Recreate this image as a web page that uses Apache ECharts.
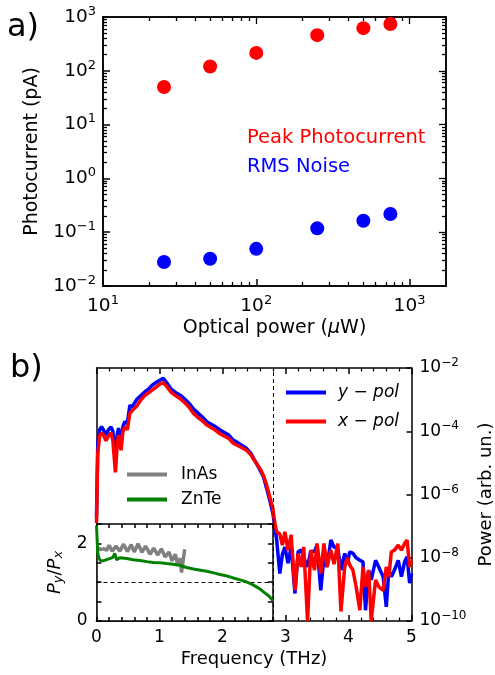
<!DOCTYPE html>
<html style="height: 100%">
<head>
<meta charset="UTF-8">
<title>Photocurrent and THz spectra</title>
<script src="https://cdn.jsdelivr.net/npm/echarts@6.0.0/dist/echarts.min.js"></script>
</head>
<body style="height: 100%; margin: 0; background: #fff">
<div id="container" style="width: 495px; height: 675px"></div>
<script type="text/javascript">
// panel a) photocurrent vs optical power
var powerUW = [25, 50, 100, 250, 500, 750];
var peakPhotocurrent = [50, 120, 215, 460, 620, 740];
var rmsNoise = [0.028, 0.032, 0.049, 0.118, 0.163, 0.218];

// panel b) power spectra, values are log10 of power (arb. un.)
var freqTHz = [0.00, 0.02, 0.05, 0.08, 0.11, 0.15, 0.19, 0.23, 0.26, 0.30, 0.33, 0.35, 0.39, 0.42, 0.45, 0.49,
  0.53, 0.56, 0.59, 0.64, 0.70, 0.77, 0.83, 0.88, 0.95, 1.01, 1.06, 1.12, 1.19, 1.26, 1.33, 1.40, 1.47,
  1.54, 1.61, 1.68, 1.75, 1.82, 1.89, 1.96, 2.03, 2.10, 2.17, 2.24, 2.31, 2.38, 2.45, 2.50, 2.54, 2.60,
  2.65, 2.70, 2.75, 2.80, 2.83, 2.86, 2.91, 2.95, 2.99, 3.04, 3.09, 3.15, 3.20, 3.25, 3.29, 3.35, 3.40,
  3.46, 3.50, 3.56, 3.61, 3.66, 3.72, 3.77, 3.83, 3.88, 3.94, 3.98, 4.02, 4.07, 4.12, 4.18, 4.23, 4.27,
  4.32, 4.36, 4.43, 4.48, 4.55, 4.60, 4.64, 4.68, 4.73, 4.79, 4.84, 4.89, 4.93, 4.97, 5.00];
var yPolLog = [-6.7, -4.4, -3.95, -3.86, -3.95, -4.12, -3.95, -3.86, -4.0, -4.75, -4.1, -3.9, -4.37, -3.85, -3.7, -3.75,
  -3.17, -3.25, -3.15, -2.99, -2.88, -2.75, -2.66, -2.55, -2.45, -2.38, -2.33, -2.48, -2.68, -2.78, -2.86, -2.98, -3.12,
  -3.3, -3.42, -3.55, -3.7, -3.78, -3.86, -3.96, -4.04, -4.12, -4.28, -4.36, -4.45, -4.54, -4.7, -4.88, -5.02, -5.25,
  -5.44, -5.8, -6.18, -6.6, -7.0, -7.44, -8.5, -7.9, -7.66, -8.17, -7.66, -9.13, -7.81, -7.76, -8.0, -8.29, -7.8,
  -7.8, -7.6, -9.03, -7.97, -8.29, -7.44, -7.66, -7.7, -8.39, -7.86, -8.2, -7.81, -7.86, -8.0, -8.08, -8.13, -9.66,
  -8.39, -8.7, -8.08, -8.29, -8.6, -9.55, -8.4, -8.6, -8.39, -8.08, -8.6, -8.13, -7.97, -8.8, -8.5];
var xPolLog = [-6.9, -4.7, -4.15, -4.05, -4.12, -4.3, -4.15, -4.05, -4.3, -5.3, -4.4, -4.12, -4.6, -4.0, -3.86, -3.95,
  -3.43, -3.4, -3.3, -3.2, -3.02, -2.86, -2.78, -2.7, -2.6, -2.5, -2.46, -2.6, -2.78, -2.88, -2.97, -3.1, -3.24,
  -3.44, -3.56, -3.67, -3.8, -3.88, -3.97, -4.08, -4.16, -4.23, -4.38, -4.45, -4.52, -4.6, -4.74, -4.9, -5.02, -5.2,
  -5.39, -5.7, -6.07, -6.45, -6.9, -7.18, -7.25, -7.6, -7.18, -7.76, -7.28, -9.03, -7.86, -8.29, -7.66, -10.0, -7.76,
  -8.39, -7.55, -8.5, -7.55, -8.29, -7.76, -8.2, -7.55, -9.7, -8.29, -8.0, -8.23, -8.39, -8.9, -9.66, -8.29, -8.92,
  -8.39, -10.0, -8.7, -8.92, -9.03, -8.29, -8.6, -7.81, -7.76, -7.6, -7.76, -7.55, -7.44, -8.29, -8.1];

// inset: ratio P_y / P_x
var znteFreq = [0.00, 0.02, 0.04, 0.06, 0.11, 0.16, 0.21, 0.26, 0.29, 0.32, 0.37, 0.48, 0.58, 0.69, 0.80, 0.90,
  1.01, 1.11, 1.22, 1.33, 1.43, 1.54, 1.65, 1.75, 1.86, 1.96, 2.07, 2.17, 2.28, 2.38, 2.46, 2.54, 2.60, 2.65,
  2.68, 2.70, 2.72, 2.75, 2.78, 2.80];
var znteRatio = [2.46, 1.75, 1.62, 1.56, 1.55, 1.58, 1.61, 1.64, 1.74, 1.58, 1.63, 1.61, 1.58, 1.56, 1.53, 1.51,
  1.50, 1.48, 1.46, 1.43, 1.38, 1.34, 1.31, 1.28, 1.24, 1.20, 1.16, 1.11, 1.06, 1.01, 0.95, 0.88, 0.82, 0.75,
  0.73, 0.69, 0.71, 0.62, 0.56, 0.53];
var inasFreq = [0.02, 0.06, 0.12, 0.16, 0.20, 0.25, 0.31, 0.37, 0.43, 0.49, 0.55, 0.60, 0.66, 0.72, 0.78, 0.85,
  0.91, 0.97, 1.03, 1.09, 1.15, 1.20, 1.25, 1.29, 1.33, 1.35, 1.40];
var inasRatio = [1.89, 1.84, 1.86, 1.82, 1.95, 1.80, 1.93, 1.80, 1.98, 1.79, 1.97, 1.78, 1.99, 1.77, 1.93, 1.72,
  1.88, 1.70, 1.86, 1.65, 1.78, 1.55, 1.72, 1.45, 1.62, 1.25, 1.85];

var font = 'DejaVu Sans';
function zip(xs, ys) {
  var out = [];
  for (var i = 0; i < xs.length; i++) out.push([xs[i], ys[i]]);
  return out;
}
function supNum(e) {
  return e < 0 ? '\u2212' + (-e) : '' + e;
}
function logLabel(v) {
  var l = Math.log10(v), e = Math.round(l);
  if (Math.abs(l - e) > 1e-6) return '';
  return '{b|10}{sup|' + supNum(e) + '}';
}
// minor ticks of a log axis, expressed in decades
function minorDecades(lo, hi) {
  var out = [];
  for (var d = Math.floor(lo); d <= Math.ceil(hi); d++) {
    for (var k = 2; k <= 9; k++) {
      var v = d + Math.log10(k);
      if (v > lo && v < hi) out.push(v);
    }
  }
  return out;
}

var supRich = {
  b: { fontFamily: font, fontSize: 18.5, lineHeight: 24, color: '#000' },
  sup: { fontFamily: font, fontSize: 13, lineHeight: 13, verticalAlign: 'top', color: '#000' }
};
var supRichB = {
  b: { fontFamily: font, fontSize: 17, lineHeight: 22, color: '#000' },
  sup: { fontFamily: font, fontSize: 12, lineHeight: 12, verticalAlign: 'top', color: '#000' }
};
function spine() { return { show: true, onZero: false, lineStyle: { color: '#000', width: 1.5 } }; }

var xMin = 10, xMax = 1730, yMin = 0.01, yMax = 1000;
var xDec = [Math.log10(xMin), Math.log10(xMax)], yDec = [Math.log10(yMin), Math.log10(yMax)];

function majorTick(len) { return { show: true, inside: true, length: len, lineStyle: { color: '#000', width: 1.5 } }; }
function customTick(vals, len) { return { show: true, inside: true, length: len, customValues: vals, lineStyle: { color: '#000', width: 1.3 } }; }
function minorAxis(grid, pos, ext) {
  return {
    gridIndex: grid, type: 'value', position: pos, min: ext[0], max: ext[1],
    axisLine: spine(), axisLabel: { show: false }, splitLine: { show: false },
    axisTick: customTick(minorDecades(ext[0], ext[1]), 4)
  };
}
function minorLin() { return { show: true, splitNumber: 5, length: 3.5, lineStyle: { color: '#000', width: 1.2 } }; }

var dom = document.getElementById('container');
var myChart = echarts.init(dom, null, { renderer: 'canvas' });

var option = {
  animation: false,
  backgroundColor: '#fff',
  textStyle: { fontFamily: font, color: '#000' },
  graphic: [
    { type: 'text', left: 7, top: 12, style: { text: 'a)', font: '32px "DejaVu Sans"', fill: '#000' } },
    { type: 'text', left: 10, top: 353, style: { text: 'b)', font: '32px "DejaVu Sans"', fill: '#000' } }
  ],
  grid: [
    { left: 103, top: 17, width: 343, height: 269, outerBoundsMode: 'none' },
    { left: 96.5, top: 368, width: 315, height: 253, outerBoundsMode: 'none' },
    { left: 96.5, top: 524, width: 176.4, height: 97, show: true, backgroundColor: '#fff', borderWidth: 0, z: 3, outerBoundsMode: 'none' },
    { left: 103, top: 17, width: 343, height: 269, outerBoundsMode: 'none' }
  ],
  legend: [
    {
      orient: 'vertical', left: 237, top: 123, itemWidth: 0, itemHeight: 0, itemGap: 9,
      textStyle: { fontFamily: font, fontSize: 19.5 },
      data: [
        { name: 'Peak Photocurrent', textStyle: { color: '#ff0000' } },
        { name: 'RMS Noise', textStyle: { color: '#0000ff' } }
      ],
      selectedMode: false
    },
    {
      orient: 'vertical', left: 281, top: 379, icon: 'rect', itemWidth: 40, itemHeight: 4, itemGap: 12,
      textStyle: { fontFamily: font, fontSize: 17, fontStyle: 'italic', color: '#000', padding: [0, 0, 0, 7] },
      data: ['y \u2212 pol', 'x \u2212 pol'],
      selectedMode: false
    },
    {
      orient: 'vertical', left: 122, top: 461, icon: 'rect', itemWidth: 40, itemHeight: 4, itemGap: 8,
      textStyle: { fontFamily: font, fontSize: 17, color: '#000', padding: [0, 0, 0, 9] },
      data: ['InAs', 'ZnTe'],
      selectedMode: false
    }
  ],
  xAxis: [
    { // 0: panel a, data axis
      gridIndex: 0, type: 'log', position: 'bottom', min: xMin, max: xMax,
      axisLine: spine(), axisTick: majorTick(7), splitLine: { show: false },
      axisLabel: { formatter: logLabel, rich: supRich, margin: 8, showMaxLabel: false },
      name: 'Optical power ({m|\u03bc}W)', nameLocation: 'middle', nameGap: 33,
      nameTextStyle: { fontFamily: font, fontSize: 19, color: '#000', rich: { m: { fontFamily: font, fontSize: 19, fontStyle: 'italic' } } }
    },
    { // 1: panel a, top spine (decades)
      gridIndex: 0, type: 'value', position: 'top', min: xDec[0], max: xDec[1],
      axisLine: spine(), axisLabel: { show: false }, splitLine: { show: false },
      axisTick: customTick([1, 2, 3], 7)
    },
    minorAxis(3, 'bottom', xDec), // 2
    minorAxis(3, 'top', xDec), // 3
    { // 4: panel b main, bottom
      gridIndex: 1, type: 'value', position: 'bottom', min: 0, max: 5, interval: 1,
      axisLine: spine(), axisTick: majorTick(6), splitLine: { show: false }, minorTick: minorLin(),
      axisLabel: { color: '#000', fontFamily: font, fontSize: 17, margin: 8 },
      name: 'Frequency (THz)', nameLocation: 'middle', nameGap: 29,
      nameTextStyle: { fontFamily: font, fontSize: 18, color: '#000' }
    },
    { // 5: panel b main, top
      gridIndex: 1, type: 'value', position: 'top', min: 0, max: 5, interval: 1,
      axisLine: spine(), axisTick: majorTick(6), splitLine: { show: false }, minorTick: minorLin(),
      axisLabel: { show: false }
    },
    { // 6: inset bottom
      gridIndex: 2, type: 'value', position: 'bottom', min: 0, max: 2.8, interval: 0.2, z: 4,
      axisLine: spine(), axisTick: majorTick(4), splitLine: { show: false }, axisLabel: { show: false }
    },
    { // 7: inset top
      gridIndex: 2, type: 'value', position: 'top', min: 0, max: 2.8, interval: 0.2, z: 4,
      axisLine: spine(), axisTick: majorTick(4), splitLine: { show: false }, axisLabel: { show: false }
    }
  ],
  yAxis: [
    { // 0: panel a, data axis
      gridIndex: 0, type: 'log', position: 'left', min: yMin, max: yMax,
      axisLine: spine(), axisTick: majorTick(7), splitLine: { show: false },
      axisLabel: { formatter: logLabel, rich: supRich, margin: 7 },
      name: 'Photocurrent (pA)', nameLocation: 'middle', nameGap: 61,
      nameTextStyle: { fontFamily: font, fontSize: 19, color: '#000' }
    },
    { // 1: panel a, right spine (decades)
      gridIndex: 0, type: 'value', position: 'right', min: yDec[0], max: yDec[1],
      axisLine: spine(), axisLabel: { show: false }, splitLine: { show: false },
      axisTick: customTick([-1, 0, 1, 2], 7)
    },
    minorAxis(3, 'left', yDec), // 2
    minorAxis(3, 'right', yDec), // 3
    { // 4: panel b main, power (log10) on the right
      gridIndex: 1, type: 'value', position: 'right', min: -10, max: -2, interval: 2,
      axisLine: spine(), axisTick: majorTick(5), splitLine: { show: false },
      axisLabel: { formatter: function (v) { return '{b|10}{sup|' + supNum(v) + '}'; }, rich: supRichB, margin: 8 },
      name: 'Power (arb. un.)', nameLocation: 'middle', nameGap: 61, nameRotate: 90,
      nameTextStyle: { fontFamily: font, fontSize: 18, color: '#000' }
    },
    { // 5: panel b main, left spine
      gridIndex: 1, type: 'value', position: 'left', min: -10, max: -2,
      axisLine: spine(), axisTick: { show: false }, splitLine: { show: false }, axisLabel: { show: false }
    },
    { // 6: inset left
      gridIndex: 2, type: 'value', position: 'left', min: 0, max: 2.5, interval: 0.5, z: 4,
      axisLine: spine(), axisTick: majorTick(5), splitLine: { show: false },
      axisLabel: {
        color: '#000', fontFamily: font, fontSize: 17, margin: 9,
        formatter: function (v) { return (v === 0 || v === 2) ? '' + v : ''; }
      },
      name: '{i|P}{s|y}{n|/}{i|P}{s|x}', nameLocation: 'middle', nameGap: 31, nameRotate: 90,
      nameTextStyle: {
        fontFamily: font, fontSize: 17, color: '#000',
        rich: {
          i: { fontFamily: font, fontSize: 18, fontStyle: 'italic', lineHeight: 21, color: '#000' },
          n: { fontFamily: font, fontSize: 18, lineHeight: 21, color: '#000' },
          s: { fontFamily: font, fontSize: 13, fontStyle: 'italic', lineHeight: 13, verticalAlign: 'bottom', color: '#000' }
        }
      }
    },
    { // 7: inset right
      gridIndex: 2, type: 'value', position: 'right', min: 0, max: 2.5, interval: 0.5, z: 4,
      axisLine: spine(), axisTick: majorTick(5), splitLine: { show: false }, axisLabel: { show: false }
    }
  ],
  series: [
    {
      name: 'Peak Photocurrent', type: 'scatter', xAxisIndex: 0, yAxisIndex: 0,
      symbol: 'circle', symbolSize: 14, itemStyle: { color: '#ff0000', opacity: 1 },
      data: zip(powerUW, peakPhotocurrent)
    },
    {
      name: 'RMS Noise', type: 'scatter', xAxisIndex: 0, yAxisIndex: 0,
      symbol: 'circle', symbolSize: 14, itemStyle: { color: '#0000ff', opacity: 1 },
      data: zip(powerUW, rmsNoise)
    },
    // empty series so the minor-tick axes of panel a are laid out
    { type: 'line', xAxisIndex: 2, yAxisIndex: 2, data: [], silent: true },
    { type: 'line', xAxisIndex: 3, yAxisIndex: 3, data: [], silent: true },
    {
      name: 'y \u2212 pol', type: 'line', xAxisIndex: 4, yAxisIndex: 4, showSymbol: false,
      lineStyle: { color: '#0000ff', width: 3.5 }, itemStyle: { color: '#0000ff' },
      data: zip(freqTHz, yPolLog),
      markLine: {
        silent: true, symbol: 'none', label: { show: false },
        lineStyle: { color: '#000', type: [4, 3], width: 1 },
        data: [{ xAxis: 2.8 }]
      }
    },
    {
      name: 'x \u2212 pol', type: 'line', xAxisIndex: 4, yAxisIndex: 4, showSymbol: false,
      lineStyle: { color: '#ff0000', width: 3.5 }, itemStyle: { color: '#ff0000' },
      data: zip(freqTHz, xPolLog)
    },
    {
      name: 'InAs', type: 'line', xAxisIndex: 6, yAxisIndex: 6, showSymbol: false, z: 5,
      lineStyle: { color: '#808080', width: 3.5 }, itemStyle: { color: '#808080' },
      data: zip(inasFreq, inasRatio)
    },
    {
      name: 'ZnTe', type: 'line', xAxisIndex: 6, yAxisIndex: 6, showSymbol: false, z: 5,
      lineStyle: { color: '#008000', width: 3 }, itemStyle: { color: '#008000' },
      data: zip(znteFreq, znteRatio),
      markLine: {
        silent: true, symbol: 'none', label: { show: false },
        lineStyle: { color: '#000', type: [4, 3], width: 1 },
        data: [{ yAxis: 1 }]
      }
    }
  ]
};
myChart.setOption(option);
</script>
</body>
</html>
